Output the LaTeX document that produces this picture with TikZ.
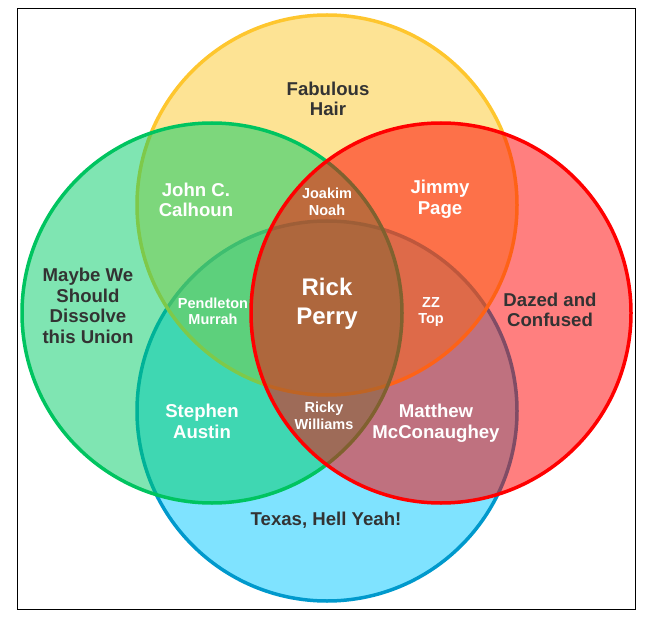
\documentclass[tikz,border=0pt]{standalone}
\usepackage{fontspec}
\setmainfont{Liberation Sans}
\definecolor{yfill}{RGB}{251,199,41}
\definecolor{ydraw}{RGB}{254,198,46}
\definecolor{gfill}{RGB}{0,204,102}
\definecolor{gdraw}{RGB}{0,196,96}
\definecolor{rfill}{RGB}{255,0,0}
\definecolor{rdraw}{RGB}{255,0,0}
\definecolor{bfill}{RGB}{0,200,255}
\definecolor{bdraw}{RGB}{0,153,204}
\definecolor{darktext}{RGB}{51,51,51}
\tikzset{
  venn/.style={circle, inner sep=0pt, minimum size=380pt, line width=3.5pt, fill opacity=0.5, draw opacity=1},
  outerlbl/.style={align=center, text=darktext, font=\fontsize{18.6}{20.7}\selectfont\bfseries, inner sep=0pt},
  innerlbl/.style={align=center, text=white, font=\fontsize{18.6}{20.7}\selectfont\bfseries, inner sep=0pt},
  smalllbl/.style={align=center, text=white, font=\fontsize{14.5}{16.5}\selectfont\bfseries, inner sep=0pt},
  biglbl/.style={align=center, text=white, font=\fontsize{24}{29}\selectfont\bfseries, inner sep=0pt},
}
\begin{document}
\begin{tikzpicture}[x=1pt,y=-1pt]
\useasboundingbox (0,0) rectangle (650,620);
\draw[line width=1pt, black] (17.5,8.5) rectangle (635.5,609);
\node[venn, fill=bfill, draw=bdraw] (blue) at (327,411) {};
\node[venn, fill=yfill, draw=ydraw] (yellow) at (327,205) {};
\node[venn, fill=gfill, draw=gdraw] (green) at (212,313) {};
\node[venn, fill=rfill, draw=rdraw] (red) at (441,313) {};
\node[outerlbl] (hair) at (328,99) {Fabulous\\Hair};
\node[outerlbl] (union) at (88,306) {Maybe We\\Should\\Dissolve\\this Union};
\node[outerlbl] (dazed) at (550,310) {Dazed and\\Confused};
\node[outerlbl] (texas) at (326,520) {Texas, Hell Yeah!};
\node[innerlbl] (calhoun) at (196,200) {John C.\\Calhoun};
\node[innerlbl] (page) at (440,199) {Jimmy\\Page};
\node[innerlbl] (austin) at (202,421) {Stephen\\Austin};
\node[innerlbl] (mcc) at (436,423) {Matthew\\McConaughey};
\node[smalllbl] (noah) at (327,202) {Joakim\\Noah};
\node[smalllbl] (murrah) at (213,311.5) {Pendleton\\Murrah};
\node[smalllbl] (zztop) at (431,312) {ZZ\\Top};
\node[smalllbl] (ricky) at (324,416) {Ricky\\Williams};
\node[biglbl] (perry) at (327,303.5) {Rick\\Perry};
\end{tikzpicture}
\end{document}
